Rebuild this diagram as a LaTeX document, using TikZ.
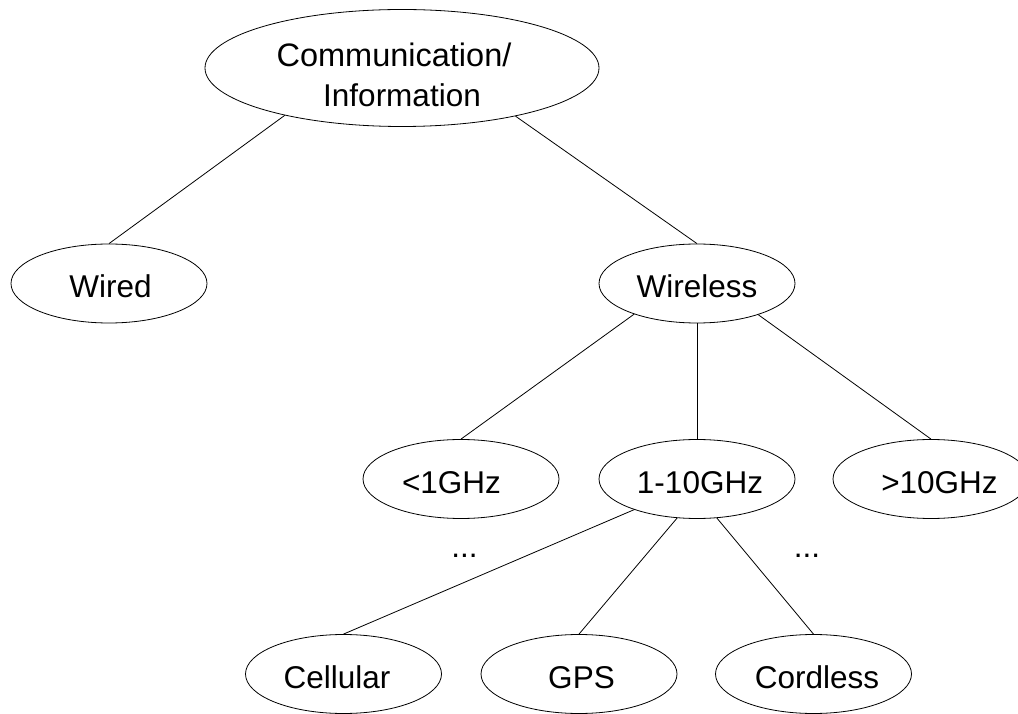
\documentclass[tikz,border=0pt]{standalone}
\usepackage{fontspec}
\setmainfont{Liberation Sans}
\usetikzlibrary{shapes.geometric}
\tikzset{
  oval/.style={ellipse, draw, line width=0.8pt, minimum width=196pt, minimum height=79pt,
    inner sep=0pt, text height=28.6pt, text depth=0pt,
    font=\fontsize{31.5}{38}\selectfont},
  rootoval/.style={ellipse, draw, line width=0.8pt, minimum width=394pt, minimum height=117pt,
    inner sep=0pt, text height=0pt, text depth=0pt,
    font=\fontsize{31.5}{38}\selectfont},
  dotstext/.style={inner sep=0pt, anchor=base, font=\fontsize{31.5}{38}\selectfont},
  link/.style={line width=0.8pt}
}
\begin{document}
\begin{tikzpicture}[x=1pt,y=1pt]
\useasboundingbox (0,0) rectangle (1018,713);
\node[rootoval] (root) at (402,645) {\raisebox{1pt}[0pt][0pt]{\makebox[0pt]{\fontsize{32.5}{38}\selectfont Communication/\kern16pt}}\raisebox{-39pt}[0pt][0pt]{\makebox[0pt]{Information}}};
\node[oval] (wired) at (109,429.5) {\kern3pt Wired};
\node[oval] (wireless) at (697,429.5) {Wireless};
\node[oval] (low) at (461,234) {<1GHz\kern19pt};
\node[oval] (mid) at (697,234) {\kern6pt 1-10GHz};
\node[oval] (high) at (931,234) {\kern17pt >10GHz};
\node[oval] (cell) at (343.5,39) {Cellular\kern13pt};
\node[oval] (gps) at (579,39) {\kern5pt GPS};
\node[oval] (cord) at (813.5,39) {\kern7pt Cordless};
\node[dotstext] (dotsL) at (464.5,155.5) {...};
\node[dotstext] (dotsR) at (807,155.5) {...};
\draw[link] (root.202.7) -- (wired.north);
\draw[link] (root.337.4) -- (wireless.north);
\draw[link] (wireless.206.2) -- (low.north);
\draw[link] (wireless.south) -- (mid.north);
\draw[link] (wireless.333.8) -- (high.north);
\draw[link] (mid.206.6) -- (cell.north);
\draw[link] (mid.243) -- (gps.north);
\draw[link] (mid.297) -- (cord.north);
\end{tikzpicture}
\end{document}
